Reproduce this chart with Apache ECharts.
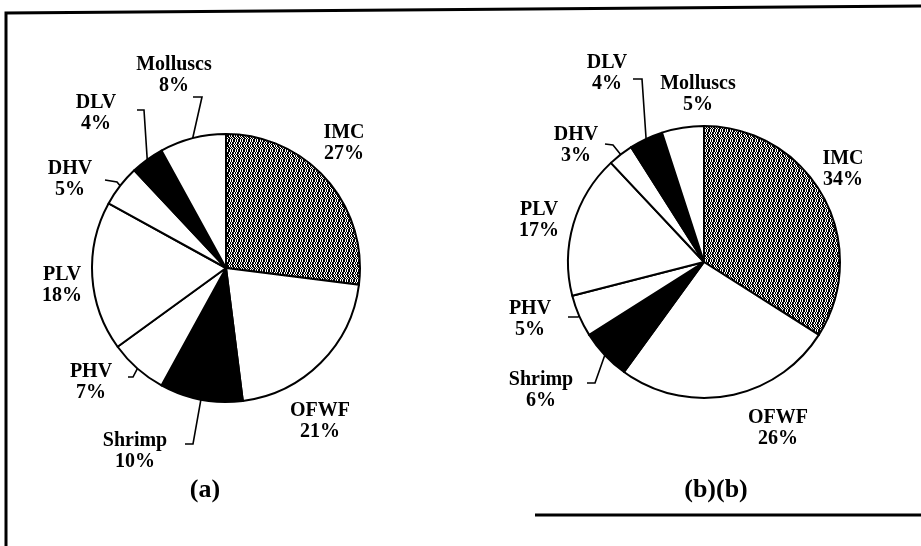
<!DOCTYPE html>
<html>
<head>
<meta charset="utf-8">
<script src="https://cdn.jsdelivr.net/npm/echarts@6/dist/echarts.min.js"></script>
<style>
html,body{margin:0;padding:0;background:#fff;}
#chart{width:921px;height:546px;}
</style>
</head>
<body>
<div id="chart"></div>
<script>
// ---- data ----
const categories = ['IMC', 'OFWF', 'Shrimp', 'PHV', 'PLV', 'DHV', 'DLV', 'Molluscs'];
const valuesA = [27, 21, 10, 7, 18, 5, 4, 8];
const valuesB = [34, 26, 6, 5, 17, 3, 4, 5];
const panelLabels = ['(a)', '(b)(b)'];

// ---- styles ----
function makePattern() {
  const c = document.createElement('canvas');
  c.width = 10; c.height = 10;
  const ctx = c.getContext('2d');
  ctx.fillStyle = '#fff';
  ctx.fillRect(0, 0, 10, 10);
  ctx.fillStyle = '#000';
  const shift = [0, 0, 1, 1, 2, 1, 1, 0, 4, 0];
  for (let y = 0; y < 10; y++) {
    for (let x = 0; x < 10; x++) {
      const m = (x + shift[y]) % 5;
      if (m !== 0 && m !== 2) ctx.fillRect(x, y, 1, 1);
    }
  }
  return c;
}
const pattern = { image: makePattern(), repeat: 'repeat' };
const fills = {
  IMC: pattern, OFWF: '#fff', Shrimp: '#000', PHV: '#fff',
  PLV: '#fff', DHV: '#fff', DLV: '#000', Molluscs: '#fff'
};

const labelPosA = {
  IMC: [344, 143], OFWF: [320, 421], Shrimp: [135, 451], PHV: [91, 382],
  PLV: [62, 285], DHV: [70, 179], DLV: [96, 113], Molluscs: [174, 75]
};
const leaderA = {
  Molluscs: [[202, 97], [193, 97]],
  DLV: [[144, 110], [137, 110]],
  DHV: [[117, 182], [105, 180]],
  PHV: [[133, 377], [128, 377]],
  Shrimp: [[193, 444], [185, 444]]
};
const labelPosB = {
  IMC: [843, 169], OFWF: [778, 428], Shrimp: [541, 390], PHV: [530, 319],
  PLV: [539, 220], DHV: [576, 145], DLV: [607, 73], Molluscs: [698, 94]
};
const leaderB = {
  DLV: [[642, 79], [633, 79]],
  DHV: [[613, 145], [605, 144]],
  PHV: [[578, 317], [568, 317]],
  Shrimp: [[595, 383], [587, 383]]
};

const FONT = 'Liberation Serif';

function buildData(values, leaders) {
  return categories.map((name, i) => ({
    name: name,
    value: values[i],
    itemStyle: { color: fills[name] },
    labelLine: { show: !!leaders[name] }
  }));
}

function makeLayout(pos, leaders) {
  return function (params) {
    const name = categories[params.dataIndex];
    const p = pos[name];
    const res = { x: p[0], y: p[1], align: 'center', verticalAlign: 'middle' };
    const ln = leaders[name];
    if (ln && params.labelLinePoints && params.labelLinePoints.length) {
      res.labelLinePoints = [params.labelLinePoints[0], ln[0], ln[1]];
    }
    return res;
  };
}

function pieSeries(values, center, radius, pos, leaders) {
  return {
    type: 'pie',
    center: center,
    radius: radius,
    startAngle: 90,
    clockwise: true,
    avoidLabelOverlap: false,
    silent: true,
    animation: false,
    itemStyle: { borderColor: '#000', borderWidth: 2 },
    label: {
      show: true,
      position: 'outside',
      formatter: '{b}\n{c}%',
      fontFamily: FONT,
      fontWeight: 'bold',
      fontSize: 20,
      lineHeight: 21,
      color: '#000'
    },
    labelLine: {
      show: true,
      length: 10,
      length2: 10,
      lineStyle: { color: '#000', width: 1.6 }
    },
    emphasis: { disabled: true },
    labelLayout: makeLayout(pos, leaders),
    data: buildData(values, leaders)
  };
}

const chart = echarts.init(document.getElementById('chart'), null, { renderer: 'canvas' });
chart.setOption({
  backgroundColor: '#fff',
  animation: false,
  series: [
    pieSeries(valuesA, [226, 268], 134, labelPosA, leaderA),
    pieSeries(valuesB, [704, 262], 136, labelPosB, leaderB)
  ],
  graphic: [
    { type: 'polyline', silent: true, shape: { points: [[6, 546], [6, 13], [921, 6]] },
      style: { stroke: '#000', lineWidth: 3, fill: null } },
    { type: 'line', silent: true, shape: { x1: 535, y1: 515, x2: 921, y2: 515 },
      style: { stroke: '#000', lineWidth: 3 } },
    { type: 'text', silent: true, x: 205, y: 490,
      style: { text: panelLabels[0], font: 'bold 26px "Liberation Serif"', fill: '#000',
               textAlign: 'center', textVerticalAlign: 'middle' } },
    { type: 'text', silent: true, x: 716, y: 490,
      style: { text: panelLabels[1], font: 'bold 26px "Liberation Serif"', fill: '#000',
               textAlign: 'center', textVerticalAlign: 'middle' } }
  ]
});
</script>
</body>
</html>
